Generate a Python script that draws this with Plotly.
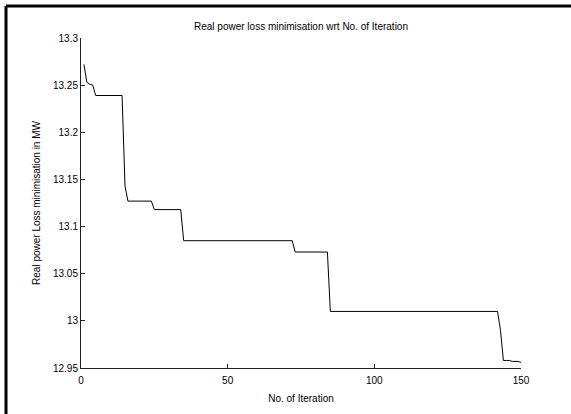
import plotly.graph_objects as go

# Best loss value per iteration, stored as (level, number of iterations held)
loss_levels = [13.272, 13.253, 13.251, 13.250, 13.239, 13.143, 13.127, 13.118,
               13.085, 13.073, 13.010, 12.990, 12.958, 12.957, 12.956]
run_lengths = [1, 1, 1, 1, 10, 1, 9, 10, 38, 12, 58, 1, 3, 3, 1]

iterations = list(range(1, sum(run_lengths) + 1))
loss = []
for level, n in zip(loss_levels, run_lengths):
    loss.extend([level] * n)

x_ticks = [0, 50, 100, 150]
y_ticks = [12.95, 13.0, 13.05, 13.1, 13.15, 13.2, 13.25, 13.3]
y_tick_text = ["12.95", "13", "13.05", "13.1", "13.15", "13.2", "13.25", "13.3"]

font_family = "Liberation Sans, Arial, sans-serif"

fig = go.Figure()
fig.add_trace(go.Scatter(
    x=iterations, y=loss, mode="lines",
    line=dict(color="black", width=1),
    showlegend=False,
))

axis_common = dict(
    showgrid=False, zeroline=False, showline=True,
    linecolor="#222222", linewidth=1, mirror=False,
    ticks="inside", ticklen=4, tickcolor="#222222", tickwidth=1,
    tickfont=dict(family=font_family, size=10, color="black"),
)

fig.update_layout(
    width=571, height=414,
    margin=dict(l=81, r=50, t=38, b=46),
    paper_bgcolor="white", plot_bgcolor="white",
    title=dict(
        text="Real power loss minimisation wrt No. of Iteration",
        x=(81 + 220) / 571, xanchor="center", y=1 - 26 / 414, yanchor="middle",
        font=dict(family=font_family, size=10, color="black"),
    ),
    xaxis=dict(
        range=[0, 150], tickvals=x_ticks, ticklabelstandoff=3,
        title=dict(text="No. of Iteration", standoff=9,
                   font=dict(family=font_family, size=10, color="black")),
        **axis_common,
    ),
    yaxis=dict(
        range=[12.95, 13.3], tickvals=y_ticks, ticktext=y_tick_text,
        title=dict(text="Real power Loss minimisation in MW", standoff=10,
                   font=dict(family=font_family, size=10, color="black")),
        **axis_common,
    ),
    shapes=[
        # frame lines along the left and top edges of the figure
        dict(type="line", xref="paper", yref="paper",
             x0=(6 - 81) / 440, x1=(6 - 81) / 440,
             y0=(368 - 420) / 330, y1=(368 - 6) / 330,
             line=dict(color="black", width=3)),
        dict(type="line", xref="paper", yref="paper",
             x0=(6 - 81) / 440, x1=(580 - 81) / 440,
             y0=(368 - 6) / 330, y1=(368 - 6) / 330,
             line=dict(color="black", width=3)),
    ],
)

fig.write_html("out.html")
